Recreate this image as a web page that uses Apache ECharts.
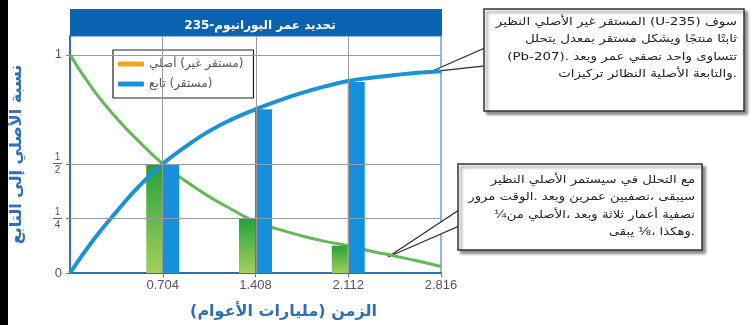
<!DOCTYPE html>
<html>
<head>
<meta charset="utf-8">
<script src="https://cdn.jsdelivr.net/npm/echarts@6/dist/echarts.min.js"></script>
<style>
  html, body { margin: 0; padding: 0; background: #fff; }
  #main { width: 756px; height: 325px; }
</style>
</head>
<body>
<!-- 图表容器 -->
<div id="main"></div>
<script>
// 数据
const curveTimes = [0, 0.176, 0.352, 0.528, 0.704, 0.88, 1.056, 1.232, 1.408, 1.584, 1.76, 1.936, 2.112, 2.288, 2.464, 2.64, 2.816]
const parentCurve = [1, 0.84, 0.71, 0.6, 0.5, 0.42, 0.35, 0.29, 0.235, 0.2, 0.17, 0.145, 0.125, 0.1, 0.078, 0.055, 0.03]
const daughterCurve = [0, 0.15, 0.28, 0.4, 0.5, 0.58, 0.65, 0.705, 0.75, 0.79, 0.825, 0.855, 0.88, 0.895, 0.907, 0.918, 0.925]
const halfLives = [0.704, 1.408, 2.112]
const parentBars = [0.5, 0.25, 0.125]
const daughterBars = [0.5, 0.75, 0.875]
const xTicks = [0.704, 1.408, 2.112, 2.816]
const yTicks = [0, 0.25, 0.5, 1]
const yGridLines = [0.25, 0.5, 1]

const parentName = 'أصلي (غير مستقر)'
const daughterName = 'تابع (مستقر)'
const note1 = [
  'النظير الأصلي غير المستقر (U-235) سوف',
  'يتحلل بمعدل مستقر ويشكل منتجًا ثابتًا',
  '(Pb-207). وبعد عمر نصفي واحد تتساوى',
  'تركيزات النظائر الأصلية والتابعة.'
]
const note2 = [
  'النظير الأصلي سيستمر في التحلل مع',
  'مرور الوقت. وبعد عمرين نصفيين، سيبقى',
  '¼من الأصلي، وبعد ثلاثة أعمار نصفية',
  'يبقى ⅛، وهكذا.'
]

const blue = '#1b92d8'
const axisBlue = '#2f6fb3'
const arFont = 'DejaVu Sans'

const zip = (xs, ys) => xs.map((x, i) => [x, ys[i]])
// 原图里注释和图例的词是从左到右排的
const ltrWords = s => s.split(' ').join('\u200E ')
const rtl = s => '\u202B' + s + '\u202C'

// 注释框：框 + 指针 + 文字
function callout(box, tip, baseY, lines, textY, scaleX) {
  return {
    type: 'group', z: 20,
    children: [
      { type: 'polygon', shape: { points: [tip, [box.x + 1, baseY[0]], [box.x + 1, baseY[1]]] }, style: { fill: '#fff', stroke: '#333', lineWidth: 1.3 } },
      {
        type: 'rect', shape: box,
        style: { fill: '#fff', stroke: '#333', lineWidth: 1.5, shadowBlur: 3, shadowOffsetX: 3, shadowOffsetY: 3, shadowColor: 'rgba(0,0,0,0.45)' }
      },
      {
        type: 'text', x: box.x + box.width - 7, y: textY, scaleX: scaleX, originX: 0, originY: 0,
        style: {
          x: 0, y: 0, align: 'right', verticalAlign: 'top',
          text: lines.map(ltrWords).join('\n'),
          fill: '#222', fontSize: 11, lineHeight: 17.5, fontFamily: arFont
        }
      }
    ]
  }
}

let chart = echarts.init(document.getElementById('main'))

const option = {
  animation: false,
  title: {
    text: rtl('تحديد عمر اليورانيوم-235'),
    left: 255,
    top: 15,
    textAlign: 'center',
    textStyle: { color: '#fff', fontSize: 12, fontWeight: 'bold', fontFamily: arFont }
  },
  legend: {
    orient: 'vertical',
    left: 113,
    top: 50,
    padding: [8, 10, 8, 5],
    itemGap: 8,
    itemWidth: 26,
    itemHeight: 5,
    borderColor: '#222',
    borderWidth: 1.2,
    backgroundColor: '#fff',
    formatter: name => ltrWords(name),
    textStyle: { color: '#555', fontSize: 12, fontFamily: arFont },
    data: [
      { name: parentName, icon: 'roundRect', itemStyle: { color: '#f7a21b' } },
      { name: daughterName, icon: 'roundRect', itemStyle: { color: blue } }
    ]
  },
  grid: {
    left: 70, right: 315, top: 36, bottom: 49,
    show: true, borderColor: axisBlue, borderWidth: 1
  },
  xAxis: {
    type: 'value',
    min: 0, max: 2.816, interval: 0.704,
    name: 'الزمن (مليارات الأعوام)',
    nameLocation: 'middle',
    nameGap: 31,
    nameTextStyle: { color: axisBlue, fontSize: 16, fontWeight: 'bold', fontFamily: arFont, padding: [0, 0, 0, 56] },
    axisLine: { lineStyle: { color: axisBlue, width: 2 } },
    axisTick: { show: true, length: 4, customValues: xTicks, lineStyle: { color: '#777' } },
    axisLabel: {
      customValues: xTicks,
      color: '#555', fontSize: 13, margin: 6,
      formatter: v => v.toFixed(3)
    },
    splitLine: { show: false }
  },
  yAxis: {
    type: 'value',
    min: 0, max: 1.086, interval: 0.25,
    name: 'نسبة الأصلي إلى التابع',
    nameLocation: 'middle',
    nameGap: 45,
    nameRotate: 90,
    nameTextStyle: { color: axisBlue, fontSize: 16, fontWeight: 'bold', fontFamily: arFont },
    axisLine: { show: true, lineStyle: { color: axisBlue, width: 2 } },
    axisTick: { show: true, length: 4, customValues: yTicks, lineStyle: { color: '#777' } },
    axisLabel: {
      customValues: yTicks,
      color: '#555', fontSize: 13, margin: 8,
      formatter: function (v) {
        if (v === 0.5) return '{n|1}\n{b|—}\n{n|2}'
        if (v === 0.25) return '{n|1}\n{b|—}\n{n|4}'
        return String(v)
      },
      rich: {
        n: { fontSize: 10, lineHeight: 9, color: '#555', align: 'center' },
        b: { fontSize: 9, lineHeight: 4, color: '#555', fontWeight: 'bold', align: 'center' }
      }
    },
    splitLine: { show: false }
  },
  series: [
    // 网格线
    {
      type: 'line', data: [], silent: true, z: 1,
      markLine: {
        silent: true, symbol: 'none', label: { show: false },
        lineStyle: { color: '#9a9a9a', type: 'solid', width: 1 },
        data: yGridLines.map(v => ({ yAxis: v })).concat(halfLives.map(v => ({ xAxis: v })))
      }
    },
    {
      name: parentName, type: 'line', smooth: true, symbol: 'none', z: 2,
      data: zip(curveTimes, parentCurve),
      lineStyle: { color: '#62b955', width: 3 },
      itemStyle: { color: '#f7a21b' }
    },
    {
      name: 'parentBar', type: 'bar', barWidth: 16, barGap: '0%', z: 3,
      data: zip(halfLives, parentBars),
      itemStyle: {
        color: new echarts.graphic.LinearGradient(0, 0, 0, 1, [
          { offset: 0, color: '#23a23c' },
          { offset: 1, color: '#a4cf5c' }
        ])
      }
    },
    {
      name: 'daughterBar', type: 'bar', barWidth: 17, barGap: '0%', z: 3,
      data: zip(halfLives, daughterBars),
      itemStyle: { color: '#1490dc' }
    },
    {
      name: daughterName, type: 'line', smooth: true, symbol: 'none', z: 4,
      data: zip(curveTimes, daughterCurve),
      lineStyle: { color: blue, width: 4 },
      itemStyle: { color: blue }
    }
  ],
  graphic: [
    // 左侧黑边
    { type: 'rect', left: 0, top: 0, z: 10, shape: { width: 8, height: 325 }, style: { fill: '#000' } },
    // 标题背景
    { type: 'rect', left: 70, top: 9, z: -1, shape: { width: 372, height: 27 }, style: { fill: '#0b62b1' } },
    callout({ x: 484, y: 9, width: 260, height: 102 }, [430, 72], [48, 66], note1, 13, 1.22),
    callout({ x: 458, y: 164, width: 244, height: 86 }, [388, 257], [210, 226], note2, 171, 1.2)
  ]
}

chart.setOption(option)
</script>
</body>
</html>
